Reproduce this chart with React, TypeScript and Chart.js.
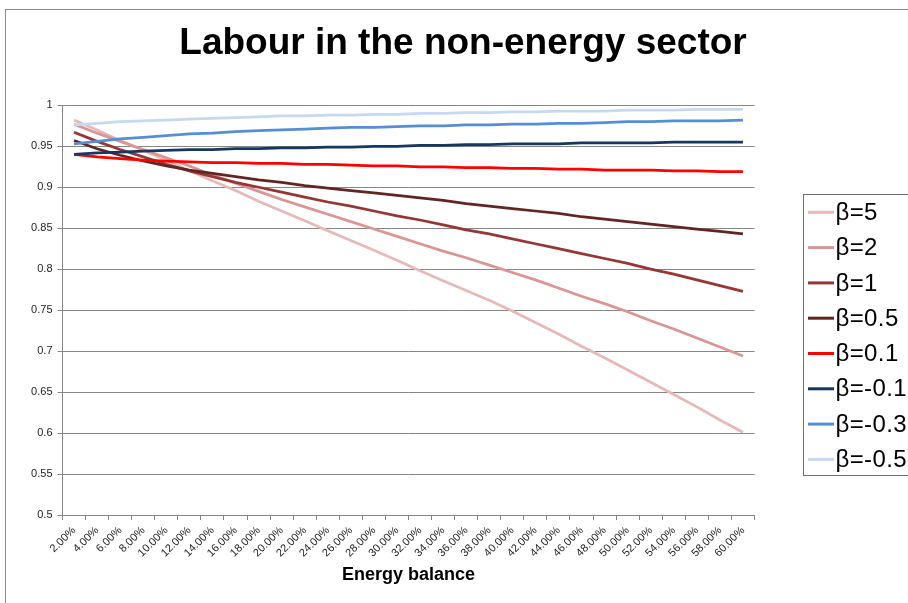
import { useEffect, useRef } from "react";
import { Chart, registerables } from "chart.js";

Chart.register(...registerables);

// Energy balance (x categories)
const balanceLabels = [
  "2.00%", "4.00%", "6.00%", "8.00%", "10.00%", "12.00%", "14.00%", "16.00%", "18.00%", "20.00%",
  "22.00%", "24.00%", "26.00%", "28.00%", "30.00%", "32.00%", "34.00%", "36.00%", "38.00%", "40.00%",
  "42.00%", "44.00%", "46.00%", "48.00%", "50.00%", "52.00%", "54.00%", "56.00%", "58.00%", "60.00%",
];

// Labour share in the non-energy sector, one series per elasticity β
const beta5 = [
  0.982, 0.970, 0.957, 0.945, 0.933, 0.920, 0.908, 0.896, 0.883, 0.871,
  0.859, 0.847, 0.835, 0.823, 0.811, 0.798, 0.786, 0.774, 0.762, 0.749,
  0.735, 0.721, 0.706, 0.692, 0.677, 0.662, 0.647, 0.632, 0.616, 0.601,
];
const beta2 = [
  0.977, 0.966, 0.956, 0.946, 0.936, 0.926, 0.915, 0.905, 0.895, 0.885,
  0.876, 0.867, 0.858, 0.849, 0.840, 0.831, 0.822, 0.814, 0.805, 0.796,
  0.787, 0.777, 0.767, 0.758, 0.748, 0.737, 0.727, 0.716, 0.705, 0.694,
];
const beta1 = [
  0.967, 0.956, 0.946, 0.937, 0.928, 0.920, 0.913, 0.906, 0.900, 0.894,
  0.888, 0.882, 0.877, 0.871, 0.865, 0.860, 0.854, 0.848, 0.843, 0.837,
  0.831, 0.825, 0.819, 0.813, 0.807, 0.800, 0.794, 0.787, 0.780, 0.773,
];
const beta05 = [
  0.957, 0.947, 0.939, 0.932, 0.926, 0.921, 0.917, 0.913, 0.909, 0.906,
  0.902, 0.899, 0.896, 0.893, 0.890, 0.887, 0.884, 0.880, 0.877, 0.874,
  0.871, 0.868, 0.864, 0.861, 0.858, 0.855, 0.852, 0.849, 0.846, 0.843,
];
const beta01 = [
  0.940, 0.937, 0.935, 0.933, 0.932, 0.931, 0.930, 0.930, 0.929, 0.929,
  0.928, 0.928, 0.927, 0.926, 0.926, 0.925, 0.925, 0.924, 0.924, 0.923,
  0.923, 0.922, 0.922, 0.921, 0.921, 0.921, 0.920, 0.920, 0.919, 0.919,
];
const betaM01 = [
  0.940, 0.942, 0.943, 0.944, 0.945, 0.946, 0.946, 0.947, 0.947, 0.948,
  0.948, 0.949, 0.949, 0.950, 0.950, 0.951, 0.951, 0.952, 0.952, 0.953,
  0.953, 0.953, 0.954, 0.954, 0.954, 0.954, 0.955, 0.955, 0.955, 0.955,
];
const betaM03 = [
  0.953, 0.956, 0.959, 0.961, 0.963, 0.965, 0.966, 0.968, 0.969, 0.970,
  0.971, 0.972, 0.973, 0.973, 0.974, 0.975, 0.975, 0.976, 0.976, 0.977,
  0.977, 0.978, 0.978, 0.979, 0.980, 0.980, 0.981, 0.981, 0.981, 0.982,
];
const betaM05 = [
  0.976, 0.978, 0.980, 0.981, 0.982, 0.983, 0.984, 0.985, 0.986, 0.987,
  0.987, 0.988, 0.988, 0.989, 0.989, 0.990, 0.990, 0.991, 0.991, 0.992,
  0.992, 0.993, 0.993, 0.993, 0.994, 0.994, 0.994, 0.995, 0.995, 0.995,
];

const seriesNames = ["β=5", "β=2", "β=1", "β=0.5", "β=0.1", "β=-0.1", "β=-0.3", "β=-0.5"];
const seriesColors = ["#E6B9B8", "#D99694", "#953735", "#632523", "#FF0000", "#17375E", "#558ED5", "#C6D9F1"];

const yMin = 0.5;
const yMax = 1;
const yStep = 0.05;

const chartTitle = "Labour in the non-energy sector";
const xTitle = "Energy balance";

const FONT = "'Liberation Sans', Arial, sans-serif";
const GRID = "#868686";

const titlePlugin = {
  id: "chartTitle",
  afterDraw(chart: any) {
    const ctx = chart.ctx;
    ctx.save();
    ctx.font = `bold 37px ${FONT}`;
    ctx.fillStyle = "#000";
    ctx.textAlign = "center";
    ctx.textBaseline = "alphabetic";
    ctx.fillText(chartTitle, 457, 43.5);
    ctx.restore();
  },
};

// Boxed legend on the right, one line sample + label per series
const boxLegendPlugin = {
  id: "boxLegend",
  afterDraw(chart: any) {
    const ctx = chart.ctx;
    const left = 797.5;
    const top = 184.5;
    const bottom = 465.5;
    const rowH = 35.3;
    const firstY = 202.3;
    ctx.save();
    ctx.strokeStyle = "#6e6e6e";
    ctx.lineWidth = 1;
    ctx.strokeRect(left, top, 200, bottom - top);
    ctx.font = `24px ${FONT}`;
    if ("letterSpacing" in ctx) (ctx as any).letterSpacing = "0.4px";
    ctx.textAlign = "left";
    ctx.textBaseline = "middle";
    chart.data.datasets.forEach((ds: any, i: number) => {
      const y = firstY + i * rowH;
      ctx.strokeStyle = ds.borderColor;
      ctx.lineWidth = 3;
      ctx.beginPath();
      ctx.moveTo(802, y);
      ctx.lineTo(828, y);
      ctx.stroke();
      ctx.fillStyle = "#000";
      ctx.fillText(ds.label, 829.5, y + 1);
    });
    ctx.restore();
  },
};

export default function App() {
  const canvasRef = useRef<HTMLCanvasElement>(null);

  useEffect(() => {
    const canvas = canvasRef.current;
    if (!canvas) return;
    const series = [beta5, beta2, beta1, beta05, beta01, betaM01, betaM03, betaM05];
    const chart = new Chart(canvas, {
      type: "line",
      data: {
        labels: balanceLabels,
        datasets: series.map((values, i) => ({
          label: seriesNames[i],
          data: values,
          borderColor: seriesColors[i],
          backgroundColor: seriesColors[i],
          borderWidth: 2.75,
          pointRadius: 0,
          pointHoverRadius: 0,
          tension: 0,
          fill: false,
          order: series.length - i,
        })),
      },
      options: {
        responsive: false,
        animation: false,
        devicePixelRatio: 1,
        events: [],
        layout: { padding: { left: 0, right: 171.5, top: 95.3, bottom: 0 } },
        plugins: {
          legend: { display: false },
          title: { display: false },
          tooltip: { enabled: false },
        },
        scales: {
          x: {
            type: "category",
            offset: true,
            grid: {
              offset: true,
              drawOnChartArea: false,
              drawTicks: true,
              tickLength: 5,
              color: GRID,
            },
            border: { color: GRID, width: 1 },
            ticks: {
              autoSkip: false,
              minRotation: 45,
              maxRotation: 45,
              padding: 4,
              color: "#222",
              font: { family: FONT, size: 11 },
            },
            title: {
              display: true,
              text: xTitle,
              color: "#000",
              font: { family: FONT, size: 18, weight: "bold" },
              padding: { top: 0, bottom: 24 },
            },
            afterFit(scale: any) {
              scale.height = 95;
            },
          },
          y: {
            min: yMin,
            max: yMax,
            grid: { color: GRID, tickLength: 5 },
            border: { color: GRID, width: 1 },
            ticks: {
              stepSize: yStep,
              padding: 5,
              color: "#222",
              font: { family: FONT, size: 11 },
              callback: (v: any) => String(Number(Number(v).toFixed(2))),
            },
            afterFit(scale: any) {
              scale.width = 56.5;
            },
          },
        },
      },
      plugins: [titlePlugin, boxLegendPlugin],
    } as any);
    return () => chart.destroy();
  }, []);

  return (
    <div style={{ position: "fixed", left: 0, top: 0, width: 908, height: 603, overflow: "hidden", background: "#fff" }}>
      <div
        style={{
          position: "absolute",
          left: 5,
          top: 9,
          width: 940,
          height: 640,
          borderLeft: "1px solid #8a8a8a",
          borderTop: "1px solid #8a8a8a",
        }}
      >
        <canvas ref={canvasRef} width={920} height={600} style={{ display: "block" }} />
      </div>
    </div>
  );
}
